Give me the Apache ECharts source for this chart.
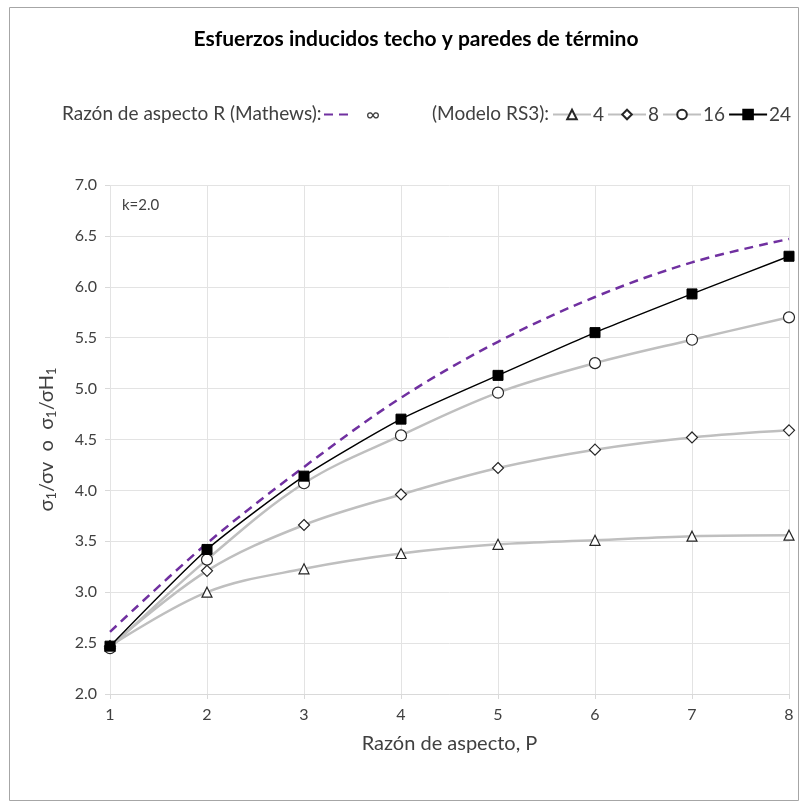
<!DOCTYPE html>
<html>
<head>
<meta charset="utf-8">
<script src="https://cdn.jsdelivr.net/npm/echarts@6/dist/echarts.min.js"></script>
<style>
  html, body { margin: 0; padding: 0; background: #fff; }
  #chart { width: 804px; height: 808px; }
</style>
</head>
<body>
<div id="chart"></div>
<script>
// Aspect ratio P along the x axis
const aspectP = [1, 2, 3, 4, 5, 6, 7, 8];
// Mathews curve, R = infinity
const mathewsInf = [2.61, 3.48, 4.23, 4.91, 5.46, 5.90, 6.24, 6.47];
// RS3 model results for R = 4, 8, 16, 24
const rs3R4 = [2.47, 3.00, 3.23, 3.38, 3.47, 3.51, 3.55, 3.56];
const rs3R8 = [2.47, 3.21, 3.66, 3.96, 4.22, 4.40, 4.52, 4.59];
const rs3R16 = [2.45, 3.32, 4.07, 4.54, 4.96, 5.25, 5.48, 5.70];
const rs3R24 = [2.47, 3.42, 4.14, 4.70, 5.13, 5.55, 5.93, 6.30];
// Axis tick ranges
const yTicks = { min: 2.0, max: 7.0, step: 0.5 };
const xTicks = { min: 1, max: 8, step: 1 };

const FONT = 'Lato, "Open Sans", sans-serif';
const pairs = (ys) => aspectP.map((x, i) => [x, ys[i]]);

const grayLine = { color: '#BFBFBF', width: 2.5 };
const hollow = { color: '#FFFFFF', borderColor: '#262626', borderWidth: 1.2 };

const chart = echarts.init(document.getElementById('chart'), null, { renderer: 'canvas' });

chart.setOption({
  animation: false,
  backgroundColor: '#FFFFFF',
  textStyle: { fontFamily: FONT },
  title: {
    text: 'Esfuerzos inducidos techo y paredes de término',
    left: 411,
    textAlign: 'center',
    top: 24,
    textStyle: { fontFamily: FONT, fontSize: 21, fontWeight: 'bold', color: '#000000' }
  },
  legend: [
    {
      data: [{ name: '∞', itemStyle: { opacity: 0 } }],
      left: 323,
      top: 105,
      padding: 0,
      width: 120,
      itemWidth: 30,
      itemHeight: 12,
      textStyle: { fontFamily: FONT, fontSize: 19, color: '#404040', padding: [0, 0, 0, 7] }
    },
    {
      data: ['4', '8', '16', '24'],
      left: 552,
      top: 105,
      padding: 0,
      width: 300,
      itemWidth: 38,
      itemHeight: 12,
      itemGap: 3,
      textStyle: { fontFamily: FONT, fontSize: 19, color: '#404040', padding: [0, 0, 0, -3] }
    }
  ],
  graphic: [
    {
      type: 'rect',
      shape: { x: 9.5, y: 7.5, width: 789, height: 793 },
      style: { fill: null, stroke: '#A6A6A6', lineWidth: 1 },
      silent: true
    },
    {
      type: 'text',
      left: 62, top: 104,
      style: { text: 'Razón de aspecto R (Mathews):', font: '19px ' + FONT, fill: '#404040' }
    },
    {
      type: 'text',
      left: 432, top: 104,
      style: { text: '(Modelo RS3):', font: '19px ' + FONT, fill: '#404040' }
    },
    {
      type: 'text',
      left: 122, top: 198,
      style: { text: 'k=2.0', font: '15px ' + FONT, fill: '#404040' }
    }
  ],
  grid: { left: 110, right: 15, top: 185, bottom: 114, containLabel: false },
  xAxis: {
    type: 'value',
    min: xTicks.min, max: xTicks.max, interval: xTicks.step,
    name: 'Razón de aspecto, P',
    nameLocation: 'middle',
    nameGap: 40,
    nameTextStyle: { fontFamily: FONT, fontSize: 20, color: '#404040' },
    axisLine: { show: true, lineStyle: { color: '#D9D9D9', width: 1 } },
    axisTick: { show: true, length: 5, lineStyle: { color: '#D9D9D9' } },
    axisLabel: { margin: 13, fontFamily: FONT, fontSize: 16, color: '#404040' },
    splitLine: { show: true, lineStyle: { color: '#E3E3E3', width: 1 } }
  },
  yAxis: {
    type: 'value',
    min: yTicks.min, max: yTicks.max, interval: yTicks.step,
    name: '{n|σ}{s|1}{n|/σv  o  σ}{s|1}{n|/σH}{s|1}',
    nameLocation: 'middle',
    nameRotate: 90,
    nameGap: 52,
    nameTextStyle: {
      fontFamily: FONT, color: '#404040',
      rich: {
        n: { fontFamily: FONT, fontSize: 20, color: '#404040' },
        s: { fontFamily: FONT, fontSize: 13, color: '#404040', padding: [9, 0, 0, 0] }
      }
    },
    axisLine: { show: false },
    axisTick: { show: true, length: 5, lineStyle: { color: '#D9D9D9' } },
    axisLabel: {
      margin: 13, fontFamily: FONT, fontSize: 16, color: '#404040',
      formatter: (v) => v.toFixed(1)
    },
    splitLine: { show: true, lineStyle: { color: '#E3E3E3', width: 1 } }
  },
  series: [
    {
      name: '∞', type: 'line', data: pairs(mathewsInf), smooth: 0.35,
      showSymbol: false, symbol: 'none', z: 1,
      lineStyle: { color: '#7030A0', width: 2.5, type: [9, 6] },
      itemStyle: { color: '#7030A0' }
    },
    {
      name: '4', type: 'line', data: pairs(rs3R4), smooth: 0.35, z: 2,
      symbol: 'triangle', symbolSize: 10,
      lineStyle: grayLine, itemStyle: hollow
    },
    {
      name: '8', type: 'line', data: pairs(rs3R8), smooth: 0.35, z: 2,
      symbol: 'diamond', symbolSize: 11,
      lineStyle: grayLine, itemStyle: hollow
    },
    {
      name: '16', type: 'line', data: pairs(rs3R16), smooth: 0.35, z: 2,
      symbol: 'circle', symbolSize: 11,
      lineStyle: grayLine, itemStyle: hollow
    },
    {
      name: '24', type: 'line', data: pairs(rs3R24), smooth: 0.2, z: 3,
      symbol: 'rect', symbolSize: 10,
      lineStyle: { color: '#000000', width: 1.5 },
      itemStyle: { color: '#000000', borderColor: '#000000', borderWidth: 1 }
    }
  ]
});
</script>
</body>
</html>
